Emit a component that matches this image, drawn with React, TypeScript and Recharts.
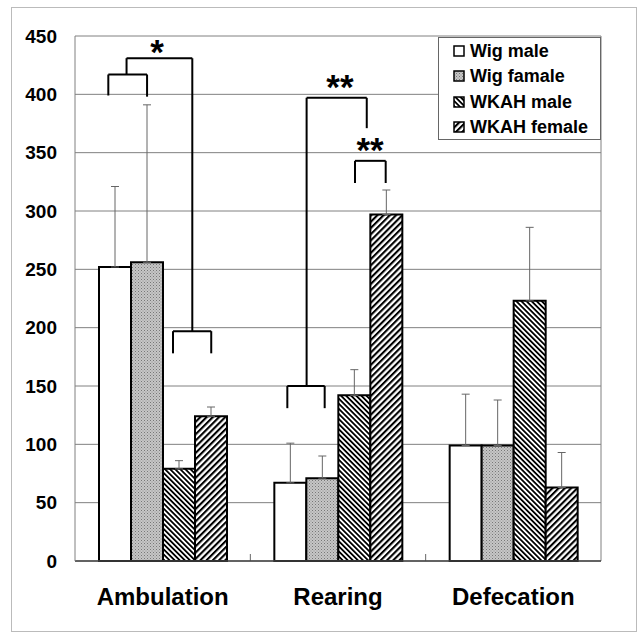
import React from 'react';
import {
  BarChart,
  Bar,
  XAxis,
  YAxis,
  CartesianGrid,
  ErrorBar,
  Legend,
  ReferenceLine,
  ReferenceDot,
} from 'recharts';

const categories = ['Ambulation', 'Rearing', 'Defecation'];
const seriesNames = ['Wig male', 'Wig famale', 'WKAH male', 'WKAH female'];
const wigMale = [252, 67, 99];
const wigMaleErr = [69, 34, 44];
const wigFemale = [256, 71, 99];
const wigFemaleErr = [135, 19, 39];
const wkahMale = [79, 142, 223];
const wkahMaleErr = [7, 22, 63];
const wkahFemale = [124, 297, 63];
const wkahFemaleErr = [8, 21, 30];
const yTicks = [0, 50, 100, 150, 200, 250, 300, 350, 400, 450];

// significance brackets: x in category units (0..3), y in data units
const bracketPaths: [number, number][][] = [
  [[0.19, 399], [0.19, 417], [0.411, 417], [0.411, 398]],
  [[0.294, 417], [0.294, 431], [0.669, 431], [0.669, 197]],
  [[0.559, 178], [0.559, 197], [0.777, 197], [0.777, 178]],
  [[1.211, 131], [1.211, 150], [1.424, 150], [1.424, 131]],
  [[1.321, 150], [1.321, 397], [1.664, 397], [1.664, 371]],
  [[1.597, 324], [1.597, 343], [1.772, 343], [1.772, 324]],
];
const stars: { x: number; y: number; text: string }[] = [
  { x: 0.468, y: 441, text: '*' },
  { x: 1.511, y: 411, text: '**' },
  { x: 1.683, y: 357, text: '**' },
];
const boundaryTicks = [1, 2];

const chartData = categories.map((name, i) => ({
  name,
  pos: i + 0.5,
  wigMale: wigMale[i],
  wigMaleErr: [0, wigMaleErr[i]],
  wigFemale: wigFemale[i],
  wigFemaleErr: [0, wigFemaleErr[i]],
  wkahMale: wkahMale[i],
  wkahMaleErr: [0, wkahMaleErr[i]],
  wkahFemale: wkahFemale[i],
  wkahFemaleErr: [0, wkahFemaleErr[i]],
}));

const FONT = '"Liberation Sans", Arial, sans-serif';

const Patterns = () => (
  <defs>
    <pattern id="stipple" patternUnits="userSpaceOnUse" width="3" height="3">
      <rect width="3" height="3" fill="#c6c6c6" />
      <rect x="0" y="0" width="1" height="1" fill="#777" />
      <rect x="1.5" y="1.5" width="1" height="1" fill="#8e8e8e" />
    </pattern>
    <pattern id="hatchBack" patternUnits="userSpaceOnUse" width="3.6" height="3.6" patternTransform="rotate(-45)">
      <rect width="3.6" height="3.6" fill="#fff" />
      <rect width="1.8" height="3.6" fill="#000" />
    </pattern>
    <pattern id="hatchFwd" patternUnits="userSpaceOnUse" width="4.4" height="4.4" patternTransform="rotate(45)">
      <rect width="4.4" height="4.4" fill="#fff" />
      <rect width="2.1" height="4.4" fill="#000" />
    </pattern>
  </defs>
);

const LegendBox = (props: any) => {
  const items = [...(props.payload || [])].sort(
    (a: any, b: any) => seriesNames.indexOf(a.value) - seriesNames.indexOf(b.value)
  );
  return (
    <div
      style={{
        border: '1px solid #666',
        background: '#fff',
        padding: '0 0 0 14px',
        fontFamily: FONT,
        fontWeight: 'bold',
        fontSize: 18,
        lineHeight: '20px',
        boxSizing: 'border-box',
        width: 163,
        height: 103,
      }}
    >
      {items.map((it: any) => (
        <div key={it.value} style={{ display: 'flex', alignItems: 'center', height: 25.5 }}>
          <svg width={12} height={12} style={{ marginRight: 5 }}>
            <rect x={1} y={1} width={10} height={10} fill={it.payload?.fill || it.color} stroke="#000" strokeWidth={1.5} />
          </svg>
          <span>{it.value}</span>
        </div>
      ))}
    </div>
  );
};

const App = () => {
  return (
    <div style={{ position: 'absolute', left: 0, top: 0, width: 639, height: 632, background: '#fff' }}>
      <div
        style={{
          position: 'absolute',
          left: 11,
          top: 7,
          width: 624,
          height: 623,
          border: '1px solid #bbb',
        }}
      />
      <div style={{ position: 'absolute', left: 0, top: 0 }}>
        <BarChart
          width={639}
          height={632}
          data={chartData}
          margin={{ top: 36, right: 38, left: 15, bottom: 21 }}
          barGap={0}
          barSize={32}
        >
          <Patterns />
          <CartesianGrid vertical={false} stroke="#808080" strokeWidth={1} />
          <XAxis
            dataKey="name"
            height={50}
            tickLine={false}
            tickSize={0}
            tickMargin={27}
            axisLine={{ stroke: '#444', strokeWidth: 1.5 }}
            tick={{ fill: '#000', fontSize: 24, fontWeight: 'bold', fontFamily: FONT }}
          />
          <XAxis xAxisId="u" dataKey="pos" type="number" domain={[0, 3]} allowDataOverflow hide />
          <YAxis
            width={60}
            domain={[0, 450]}
            ticks={yTicks}
            interval={0}
            tickLine={false}
            tickSize={0}
            tickMargin={18}
            axisLine={{ stroke: '#808080' }}
            tick={{ fill: '#000', fontSize: 19, fontWeight: 'bold', fontFamily: FONT }}
          />
          <Legend
            layout="vertical"
            align="center"
            verticalAlign="middle"
            content={<LegendBox />}
            wrapperStyle={{ top: 37, left: 438, width: 163, height: 103 }}
          />
          <Bar dataKey="wigMale" name={seriesNames[0]} fill="#fff" stroke="#000" strokeWidth={2} isAnimationActive={false}>
            <ErrorBar dataKey="wigMaleErr" direction="y" width={4} stroke="#666" strokeWidth={1} isAnimationActive={false} />
          </Bar>
          <Bar dataKey="wigFemale" name={seriesNames[1]} fill="url(#stipple)" stroke="#000" strokeWidth={2} isAnimationActive={false}>
            <ErrorBar dataKey="wigFemaleErr" direction="y" width={4} stroke="#666" strokeWidth={1} isAnimationActive={false} />
          </Bar>
          <Bar dataKey="wkahMale" name={seriesNames[2]} fill="url(#hatchBack)" stroke="#000" strokeWidth={2} isAnimationActive={false}>
            <ErrorBar dataKey="wkahMaleErr" direction="y" width={4} stroke="#666" strokeWidth={1} isAnimationActive={false} />
          </Bar>
          <Bar dataKey="wkahFemale" name={seriesNames[3]} fill="url(#hatchFwd)" stroke="#000" strokeWidth={2} isAnimationActive={false}>
            <ErrorBar dataKey="wkahFemaleErr" direction="y" width={4} stroke="#666" strokeWidth={1} isAnimationActive={false} />
          </Bar>
          <ReferenceLine
            xAxisId="u"
            segment={[{ x: 3, y: 0 }, { x: 3, y: 450 }]}
            stroke="#808080"
            ifOverflow="visible"
          />
          {boundaryTicks.map((t) => (
            <ReferenceLine
              key={`bt${t}`}
              xAxisId="u"
              segment={[{ x: t, y: 0 }, { x: t, y: 6 }]}
              stroke="#666"
              ifOverflow="visible"
            />
          ))}
          {bracketPaths.flatMap((pts, i) =>
            pts.slice(1).map((p, j) => (
              <ReferenceLine
                key={`b${i}-${j}`}
                xAxisId="u"
                segment={[{ x: pts[j][0], y: pts[j][1] }, { x: p[0], y: p[1] }]}
                stroke="#000"
                strokeWidth={2}
                ifOverflow="visible"
              />
            ))
          )}
          {stars.map((s, i) => (
            <ReferenceDot
              key={`s${i}`}
              xAxisId="u"
              x={s.x}
              y={s.y}
              r={0}
              ifOverflow="visible"
              shape={(p: any) => (
                <text
                  x={p.cx}
                  y={p.cy + 17}
                  textAnchor="middle"
                  fontSize={35}
                  fontWeight="bold"
                  fontFamily={FONT}
                  fill="#000"
                >
                  {s.text}
                </text>
              )}
            />
          ))}
        </BarChart>
      </div>
    </div>
  );
};

export default App;
